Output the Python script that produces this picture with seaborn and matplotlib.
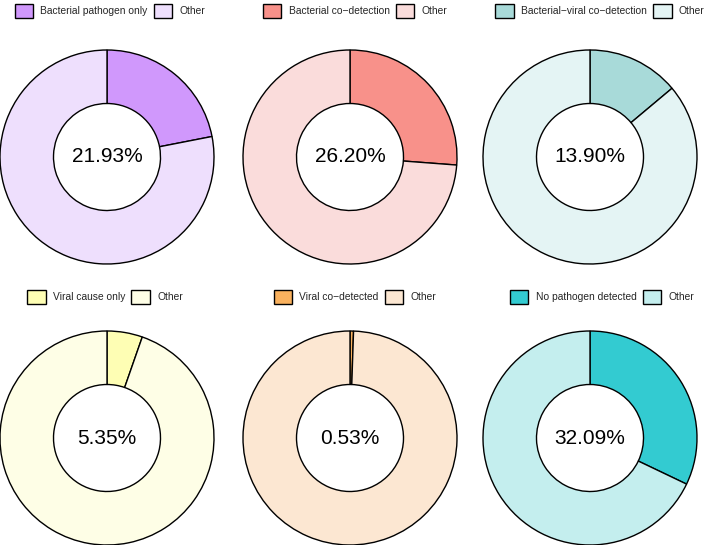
import matplotlib
matplotlib.use("Agg")
import matplotlib.pyplot as plt
import seaborn as sns
from matplotlib.patches import Patch

sns.set_theme(style="white")
plt.rcParams['font.family'] = ['Liberation Sans', 'DejaVu Sans']

categories = ["Bacterial pathogen only", "Bacterial co\u2212detection", "Bacterial\u2212viral co\u2212detection",
              "Viral cause only", "Viral co\u2212detected", "No pathogen detected"]
percentages = [21.93, 26.20, 13.90, 5.35, 0.53, 32.09]
main_colors = ["#D098FC", "#F8918A", "#A8DAD9", "#FEFEB4", "#F9B15E", "#33CBD1"]
other_colors = ["#EEDFFD", "#FADCDB", "#E4F4F4", "#FEFEE6", "#FCE7D2", "#C4EEEE"]
other_label = "Other"

W, H = 708, 545
fig = plt.figure(figsize=(W / 100, H / 100), dpi=100)

centers = [(107, 157), (350, 157), (590, 157), (107, 438), (350, 438), (590, 438)]
legend_cx = [110, 355, 600, 105, 355, 602]
legend_dy = [146, 146, 146, 141, 141, 141]
R = 107

for i, (cat, pct) in enumerate(zip(categories, percentages)):
    cx, cy = centers[i]
    ax = fig.add_axes([(cx - R) / W, (H - cy - R) / H, 2 * R / W, 2 * R / H])
    ax.pie([pct, 100 - pct], colors=[main_colors[i], other_colors[i]],
           startangle=90, counterclock=False, radius=1.0,
           wedgeprops=dict(width=0.5, edgecolor="black", linewidth=1.0))
    ax.set_aspect("equal")
    ax.set_xlim(-1.0, 1.0)
    ax.set_ylim(-1.0, 1.0)
    ax.text(0, 0, f"{pct:.2f}%", ha="center", va="center", fontsize=15, color="black")
    handles = [Patch(facecolor=main_colors[i], edgecolor="black", linewidth=1.0, label=cat),
               Patch(facecolor=other_colors[i], edgecolor="black", linewidth=1.0, label=other_label)]
    lx = 0.5 + (legend_cx[i] - cx) / (2 * R)
    ly = 0.5 + legend_dy[i] / (2 * R)
    ax.legend(handles=handles, loc="center", bbox_to_anchor=(lx, ly),
              ncol=2, frameon=False, fontsize=7.4, handlelength=1.8, handleheight=1.8,
              handletextpad=0.7, columnspacing=0.6, borderaxespad=0, borderpad=0)

fig.savefig("out.png", dpi=100)
